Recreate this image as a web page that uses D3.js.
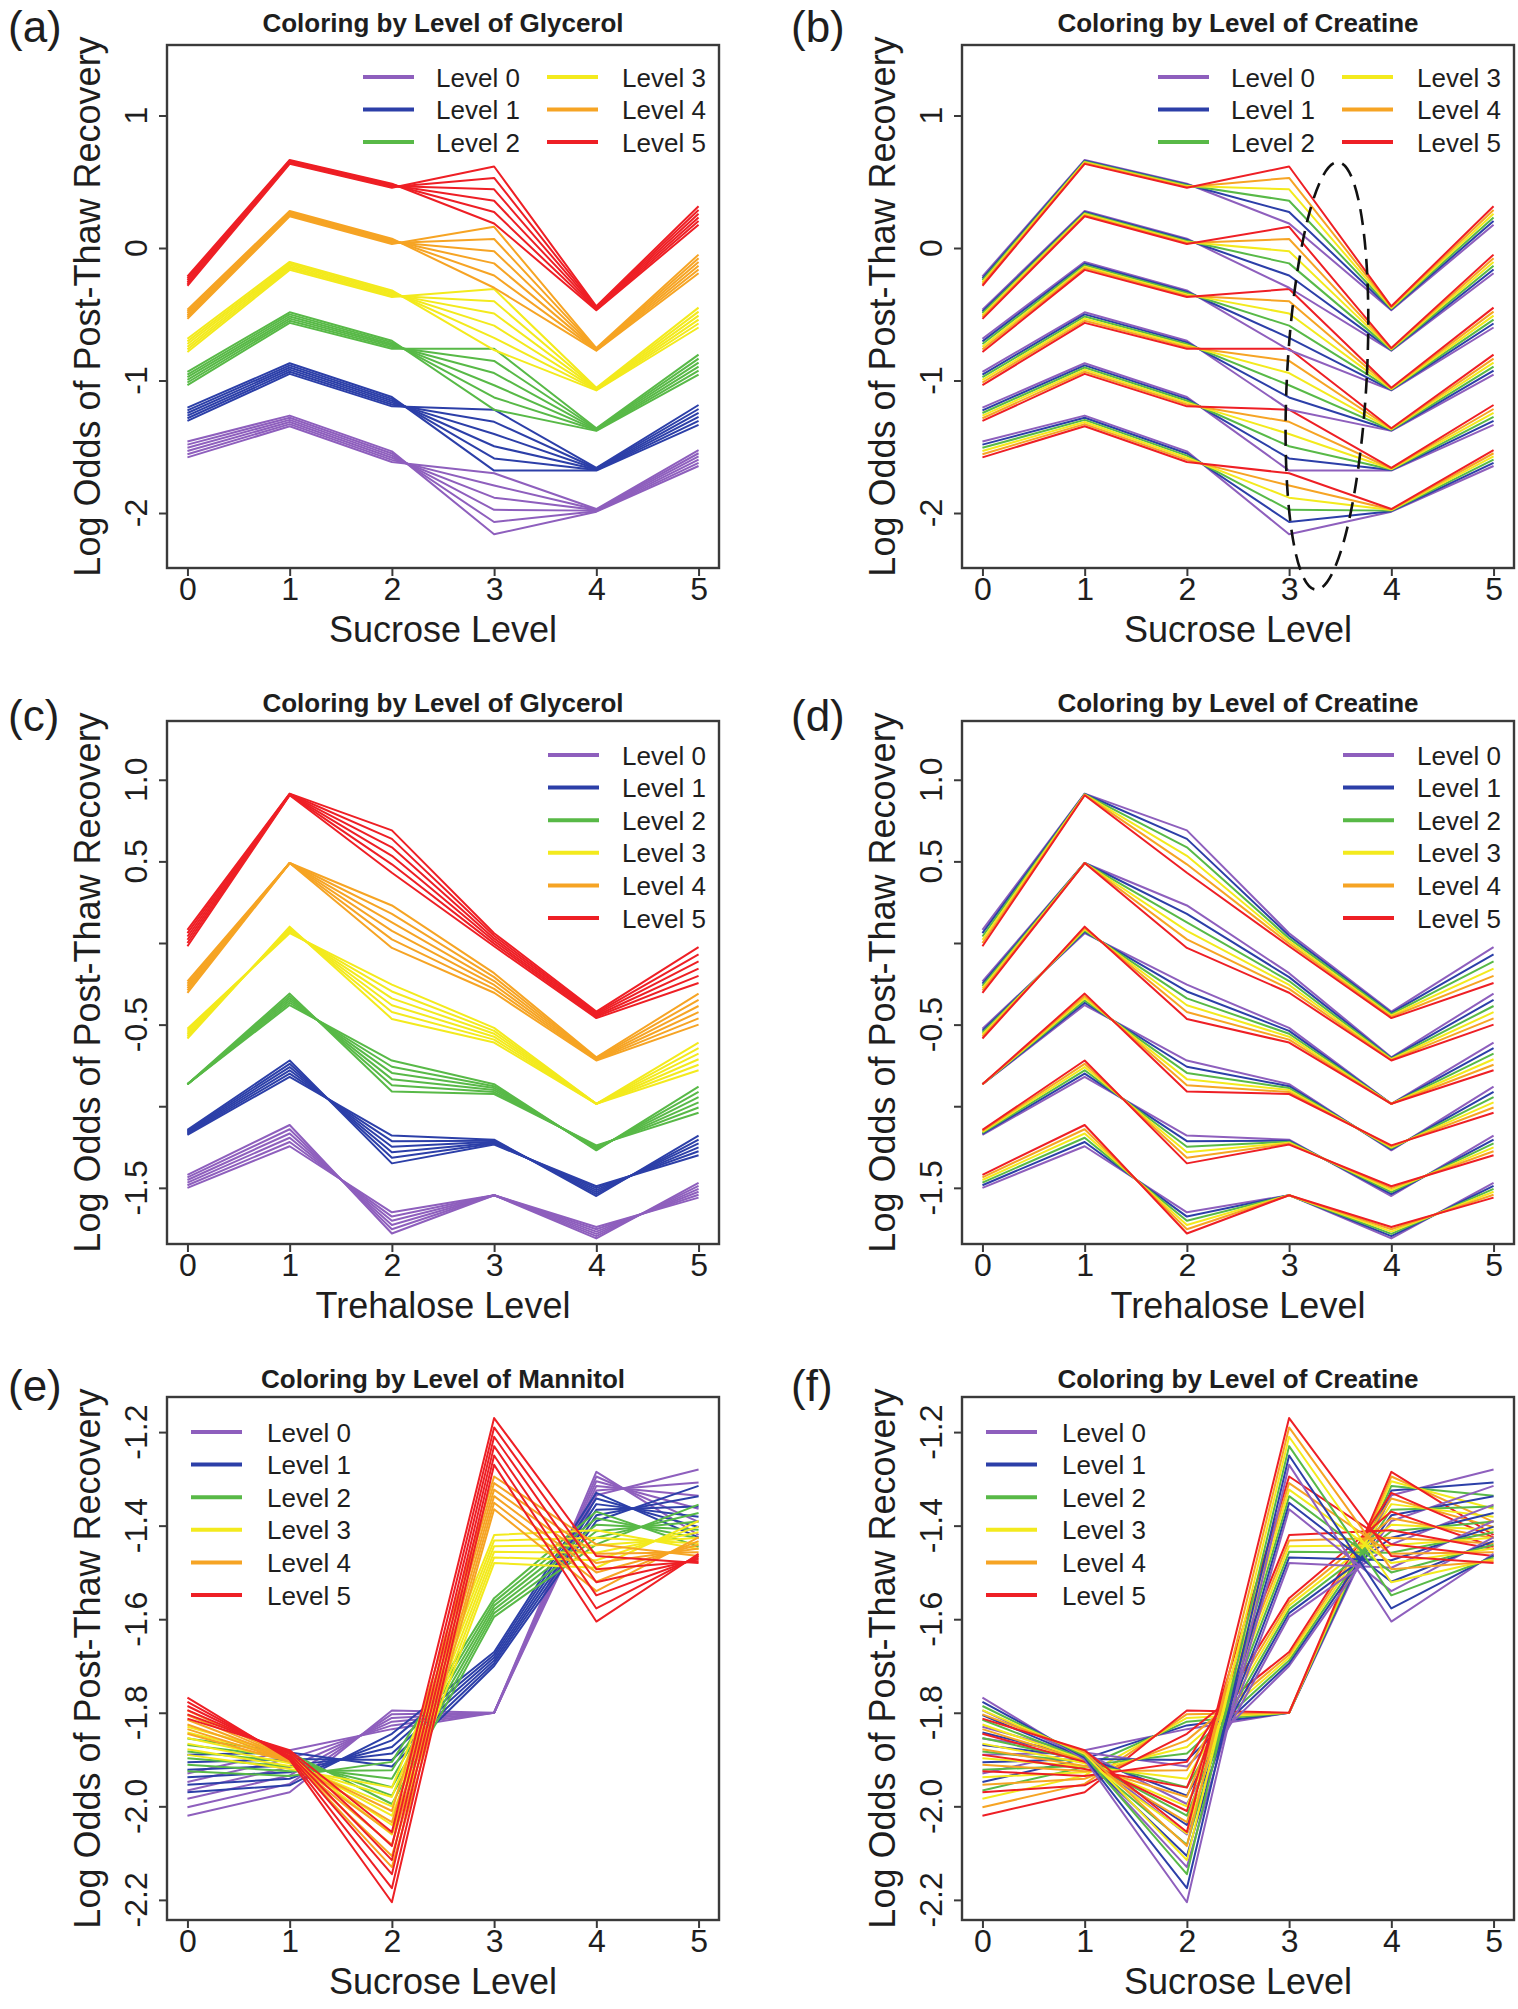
<!DOCTYPE html>
<html><head><meta charset="utf-8">
<script src="https://cdn.jsdelivr.net/npm/d3@7"></script>
<style>
body{margin:0;background:#fff}
svg{display:block}
text{font-family:"Liberation Sans",Arial,Helvetica,sans-serif;fill:#1e1e1e}
</style>
</head><body>
<svg id="chart" width="1518" height="2009"></svg>
<script>
// ---------------- data ----------------
const xLevels = [0, 1, 2, 3, 4, 5];
const levelLabels = ["Level 0", "Level 1", "Level 2", "Level 3", "Level 4", "Level 5"];
const levelColors = ["#8e5fbd", "#2c3fa8", "#58b947", "#f3ea1d", "#f6a424", "#ee1f25"];

// Sucrose x Glycerol (groups) x Creatine (fan within group): centre of each glycerol band per sucrose level
const sucGlyCenter = [
  [-1.52, -1.305, -1.575, -1.93, -1.98, -1.585],
  [-1.255, -0.91, -1.16, -1.45, -1.67, -1.26],
  [-0.985, -0.525, -0.73, -0.99, -1.37, -0.88],
  [-0.735, -0.135, -0.345, -0.54, -1.065, -0.525],
  [-0.50, 0.26, 0.05, -0.07, -0.765, -0.12],
  [-0.25, 0.65, 0.47, 0.40, -0.455, 0.245]
];
// creatine level 5 minus creatine level 0, per glycerol band and sucrose level
const sucCreSpread = [
  [-0.12, -0.08, -0.08, 0.46, 0.02, 0.12],
  [-0.10, -0.08, -0.07, 0.46, 0.02, 0.15],
  [-0.10, -0.08, -0.06, 0.46, 0.02, 0.15],
  [-0.10, -0.06, -0.05, 0.46, 0.02, 0.15],
  [-0.07, -0.04, -0.04, 0.46, 0.02, 0.14],
  [-0.07, -0.03, -0.03, 0.43, 0.03, 0.14]
];

// Trehalose x Glycerol x Creatine
const treGlyCenter = [
  [-1.46, -1.18, -1.715, -1.545, -1.775, -1.515],
  [-1.16, -0.77, -1.265, -1.22, -1.52, -1.24],
  [-0.865, -0.345, -0.815, -0.895, -1.255, -0.96],
  [-0.555, 0.08, -0.36, -0.565, -0.985, -0.695],
  [-0.27, 0.49, 0.10, -0.245, -0.71, -0.405],
  [0.03, 0.91, 0.56, 0.02, -0.44, -0.135]
];
const treCreSpread = [
  [0.08, 0.13, -0.13, 0.00, 0.07, -0.09],
  [0.03, 0.10, -0.17, -0.03, 0.06, -0.12],
  [0.00, 0.07, -0.19, -0.06, 0.03, -0.16],
  [-0.06, 0.04, -0.21, -0.09, 0.00, -0.17],
  [-0.07, 0.00, -0.26, -0.12, -0.02, -0.19],
  [-0.10, -0.01, -0.26, -0.08, -0.04, -0.22]
];

// Sucrose x Mannitol x Creatine
const sucManCenter = [
  [-1.975, -1.925, -1.815, -1.80, -1.31, -1.35],
  [-1.93, -1.92, -1.88, -1.685, -1.36, -1.37],
  [-1.89, -1.91, -1.95, -1.575, -1.405, -1.40],
  [-1.86, -1.905, -2.01, -1.45, -1.45, -1.42],
  [-1.82, -1.90, -2.07, -1.33, -1.49, -1.445],
  [-1.79, -1.89, -2.13, -1.22, -1.535, -1.47]
];
const sucManCreSpread = [
  [-0.09, -0.09, 0.04, 0.00, 0.05, -0.14],
  [-0.08, -0.07, 0.07, 0.03, 0.06, -0.11],
  [-0.07, -0.05, 0.09, 0.04, 0.07, -0.09],
  [-0.06, -0.03, 0.10, 0.06, 0.08, -0.06],
  [-0.05, -0.01, 0.12, 0.07, 0.10, -0.04],
  [-0.045, 0.02, 0.15, 0.10, 0.14, -0.02]
];

const yTicksSuc = [-2, -1, 0, 1];
const yTickLabelsSuc = ["-2", "-1", "0", "1"];
const yTicksTre = [-1.5, -1.0, -0.5, 0.0, 0.5, 1.0];
const yTickLabelsTre = ["-1.5", "", "-0.5", "", "0.5", "1.0"];
const yTicksMan = [-2.2, -2.0, -1.8, -1.6, -1.4, -1.2];
const yTickLabelsMan = ["-2.2", "-2.0", "-1.8", "-1.6", "-1.4", "-1.2"];

// ---------------- layout ----------------
const datasets = {
  suc: {center: sucGlyCenter, spread: sucCreSpread, yDomain: [-2.415, 1.532], ticks: yTicksSuc, labels: yTickLabelsSuc},
  tre: {center: treGlyCenter, spread: treCreSpread, yDomain: [-1.844, 1.36], ticks: yTicksTre, labels: yTickLabelsTre},
  man: {center: sucManCenter, spread: sucManCreSpread, yDomain: [-2.243, -1.125], ticks: yTicksMan, labels: yTickLabelsMan}
};

const panels = [
  {tag: "(a)", col: 0, row: 0, data: "suc", colorBy: "group", title: "Coloring by Level of Glycerol", xLabel: "Sucrose Level", legend: "two"},
  {tag: "(b)", col: 1, row: 0, data: "suc", colorBy: "fan", title: "Coloring by Level of Creatine", xLabel: "Sucrose Level", legend: "two", ellipse: true},
  {tag: "(c)", col: 0, row: 1, data: "tre", colorBy: "group", title: "Coloring by Level of Glycerol", xLabel: "Trehalose Level", legend: "right"},
  {tag: "(d)", col: 1, row: 1, data: "tre", colorBy: "fan", title: "Coloring by Level of Creatine", xLabel: "Trehalose Level", legend: "right"},
  {tag: "(e)", col: 0, row: 2, data: "man", colorBy: "group", title: "Coloring by Level of Mannitol", xLabel: "Sucrose Level", legend: "left"},
  {tag: "(f)", col: 1, row: 2, data: "man", colorBy: "fan", title: "Coloring by Level of Creatine", xLabel: "Sucrose Level", legend: "left"}
];

const colLeft = [167, 962];
const rowTop = [45, 721, 1397];
const boxW = 552, boxH = 523;
const tagX = [8, 791];
const tagBaseline = [42, 731, 1401];
const titleBaseline = [32, 712, 1388];

const svg = d3.select("#chart");

panels.forEach(p => {
  const ds = datasets[p.data];
  const L = colLeft[p.col], T = rowTop[p.row];
  const x = d3.scaleLinear().domain([-0.2, 5.2]).range([L, L + boxW]);
  const y = d3.scaleLinear().domain(ds.yDomain).range([T + boxH, T]);
  const g = svg.append("g");

  // lines
  const line = d3.line().x((d, i) => x(xLevels[i])).y(d => y(d));
  for (let gi = 0; gi < 6; gi++) {
    for (let ci = 0; ci < 6; ci++) {
      const vals = xLevels.map((_, i) => ds.center[gi][i] + (ci / 5 - 0.5) * ds.spread[gi][i]);
      g.append("path")
        .attr("d", line(vals))
        .attr("fill", "none")
        .attr("stroke", levelColors[p.colorBy === "group" ? gi : ci])
        .attr("stroke-width", 2)
        .attr("stroke-linejoin", "round");
    }
  }

  // box
  g.append("rect").attr("x", L).attr("y", T).attr("width", boxW).attr("height", boxH)
    .attr("fill", "none").attr("stroke", "#3a3a3a").attr("stroke-width", 2.4);

  // x axis ticks + labels
  const xa = d3.axisBottom(x).tickValues(xLevels).tickSize(8).tickPadding(6).tickFormat(d3.format("d"));
  const gx = g.append("g").attr("transform", `translate(0,${T + boxH})`).call(xa);
  gx.select(".domain").remove();
  gx.selectAll(".tick line").attr("stroke", "#3a3a3a").attr("stroke-width", 2);
  gx.selectAll(".tick text").attr("font-size", 32).attr("y", 32).attr("dy", null).attr("fill", "#1e1e1e")
    .style("font-family", '"Liberation Sans",Arial,sans-serif');

  // y axis ticks + labels (rotated, parallel to axis)
  const ya = d3.axisLeft(y).tickValues(ds.ticks).tickSize(8).tickFormat("");
  const gy = g.append("g").attr("transform", `translate(${L},0)`).call(ya);
  gy.select(".domain").remove();
  gy.selectAll(".tick line").attr("stroke", "#3a3a3a").attr("stroke-width", 2);
  ds.ticks.forEach((t, i) => {
    if (!ds.labels[i]) return;
    g.append("text")
      .attr("transform", `translate(${L - 20},${y(t)}) rotate(-90)`)
      .attr("text-anchor", "middle").attr("font-size", 32).text(ds.labels[i]);
  });

  // axis titles
  g.append("text").attr("x", L + boxW / 2).attr("y", T + boxH + 74).attr("text-anchor", "middle")
    .attr("font-size", 36).text(p.xLabel);
  g.append("text").attr("transform", `translate(${L - 67},${T + boxH / 2}) rotate(-90)`)
    .attr("text-anchor", "middle").attr("font-size", 36).text("Log Odds of Post-Thaw Recovery");

  // title
  g.append("text").attr("x", L + boxW / 2).attr("y", titleBaseline[p.row]).attr("text-anchor", "middle")
    .attr("font-size", 26).attr("font-weight", "bold").text(p.title);

  // panel tag
  g.append("text").attr("x", tagX[p.col]).attr("y", tagBaseline[p.row]).attr("font-size", 44).text(p.tag);

  // legend
  levelLabels.forEach((lab, i) => {
    let lx, tx, ly;
    if (p.legend === "two") {
      const c = Math.floor(i / 3), r = i % 3;
      lx = L + (c === 0 ? 196 : 380); tx = L + (c === 0 ? 269 : 455); ly = T + 32 + r * 32.5;
    } else if (p.legend === "right") {
      lx = L + 381; tx = L + 455; ly = T + 34 + i * 32.6;
    } else {
      lx = L + 24; tx = L + 100; ly = T + 35 + i * 32.6;
    }
    g.append("line").attr("x1", lx).attr("x2", lx + 51).attr("y1", ly).attr("y2", ly)
      .attr("stroke", levelColors[i]).attr("stroke-width", 4);
    g.append("text").attr("x", tx).attr("y", ly + 9.5).attr("font-size", 26).text(lab);
  });

  // dashed ellipse highlighting sucrose level 3 in (b)
  if (p.ellipse) {
    const cx = x(3.37), cy = y(-0.965);
    const rx = x(3.76) - x(3.37), ry = y(-0.965) - y(0.65);
    g.append("ellipse").attr("cx", cx).attr("cy", cy).attr("rx", rx).attr("ry", ry)
      .attr("transform", `rotate(3,${cx},${cy})`)
      .attr("fill", "none").attr("stroke", "#111").attr("stroke-width", 2.6)
      .attr("stroke-dasharray", "16,9");
  }
});
</script>
</body></html>
